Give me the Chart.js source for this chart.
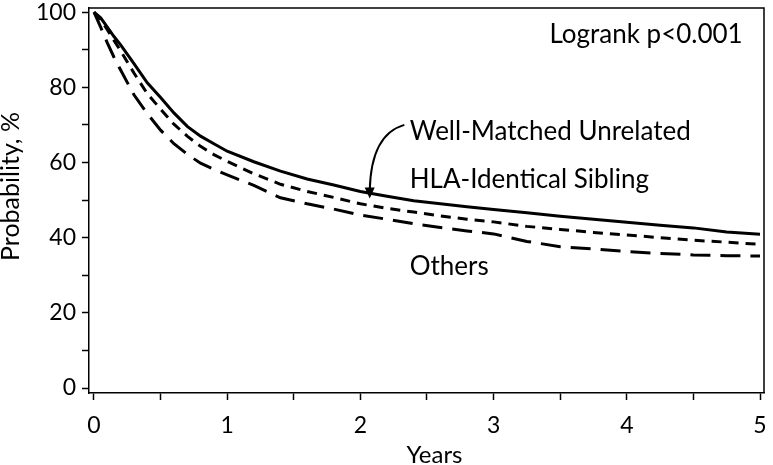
<!DOCTYPE html>
<html>
<head>
<meta charset="utf-8">
<script src="https://cdn.jsdelivr.net/npm/chart.js@4.4.1/dist/chart.umd.min.js"></script>
<style>
  html, body { margin: 0; padding: 0; background: #fff; }
  #wrap { width: 773px; height: 465px; }
</style>
</head>
<body>
<div id="wrap"><canvas id="km"></canvas></div>
<script>
// survival estimates (years, %)
const years = [0, 0.05, 0.1, 0.15, 0.2, 0.3, 0.4, 0.5, 0.6, 0.7, 0.8, 0.9, 1.0, 1.2, 1.4, 1.6, 1.8,
  2.0, 2.2, 2.4, 2.6, 2.8, 3.0, 3.25, 3.5, 3.75, 4.0, 4.25, 4.5, 4.75, 5.0];
const wellMatched = [100, 98.5, 96, 93.5, 91.3, 86.3, 81.2, 77.3, 73.2, 69.6, 67.0, 65.0, 63.0, 60.2, 57.7, 55.6, 54.0,
  52.3, 51.0, 49.8, 49.0, 48.2, 47.5, 46.6, 45.7, 44.9, 44.1, 43.3, 42.6, 41.5, 40.9];
const hlaSibling = [100, 98, 95.3, 92.5, 89.7, 83.8, 78.3, 74.2, 70.2, 67.0, 64.3, 62.1, 60.3, 57.0, 54.2, 52.3, 50.7,
  49.0, 47.8, 46.8, 45.8, 44.9, 44.2, 43.0, 42.2, 41.4, 40.7, 40.0, 39.3, 38.8, 38.2];
const others = [100, 96.0, 91.8, 88.0, 84.6, 78.0, 73.0, 68.6, 65.0, 62.2, 59.8, 58.2, 56.7, 53.9, 50.6, 49.0, 47.6,
  46.0, 44.9, 43.7, 42.7, 41.8, 41.0, 39.0, 37.6, 37.0, 36.3, 35.8, 35.4, 35.2, 35.1];

const xTicks = [0, 0.5, 1, 1.5, 2, 2.5, 3, 3.5, 4, 4.5, 5];
const yTicks = [0, 10, 20, 30, 40, 50, 60, 70, 80, 90, 100];

// in-plot labels: [text, year, value, align]
const notes = [
  ['Well-Matched Unrelated', 2.37, 68.3, 'left'],
  ['HLA-Identical Sibling', 2.37, 55.4, 'left'],
  ['Others', 2.37, 32.3, 'left'],
  ['Logrank p<0.001', 4.87, 94.0, 'right']
];
// arrow from label to curve: start, control, tip (year, value)
const arrowPath = [[2.33, 70.0], [2.08, 67.5], [2.07, 50.4]];

const FONT = 'Lato, "Open Sans", sans-serif';

const toPts = arr => arr.map((v, i) => ({ x: years[i], y: v }));

const annotate = {
  id: 'annotate',
  afterDraw(c) {
    const ctx = c.ctx, xs = c.scales.x, ys = c.scales.y, a = c.chartArea;
    ctx.save();
    // box round the plot
    ctx.strokeStyle = '#000';
    ctx.lineWidth = 1.5;
    ctx.beginPath();
    ctx.moveTo(a.left, a.top);
    ctx.lineTo(a.right, a.top);
    ctx.lineTo(a.right, a.bottom);
    ctx.stroke();

    ctx.fillStyle = '#000';
    ctx.font = '26px ' + FONT;
    ctx.textBaseline = 'middle';
    notes.forEach(n => {
      ctx.textAlign = n[3];
      ctx.fillText(n[0], xs.getPixelForValue(n[1]), ys.getPixelForValue(n[2]));
    });

    // axis titles
    ctx.font = '24px ' + FONT;
    ctx.textAlign = 'center';
    ctx.fillText('Years', (a.left + a.right) / 2 + 8, 455);
    ctx.save();
    ctx.font = '25px ' + FONT;
    ctx.translate(11, (a.top + a.bottom) / 2 - 14);
    ctx.rotate(-Math.PI / 2);
    ctx.fillText('Probability, %', 0, 0);
    ctx.restore();

    const p = arrowPath.map(q => [xs.getPixelForValue(q[0]), ys.getPixelForValue(q[1])]);
    ctx.lineWidth = 2;
    ctx.beginPath();
    ctx.moveTo(p[0][0], p[0][1]);
    ctx.quadraticCurveTo(p[1][0], p[1][1], p[2][0], p[2][1] - 8);
    ctx.stroke();
    ctx.beginPath();
    ctx.moveTo(p[2][0], p[2][1]);
    ctx.lineTo(p[2][0] - 5, p[2][1] - 11);
    ctx.lineTo(p[2][0] + 5, p[2][1] - 11);
    ctx.closePath();
    ctx.fill();
    ctx.restore();
  }
};

new Chart(document.getElementById('km'), {
  type: 'line',
  data: {
    datasets: [
      { label: 'Well-Matched Unrelated', data: toPts(wellMatched), borderColor: '#000', borderWidth: 3, pointRadius: 0 },
      { label: 'HLA-Identical Sibling', data: toPts(hlaSibling), borderColor: '#000', borderWidth: 3, borderDash: [10, 7], pointRadius: 0 },
      { label: 'Others', data: toPts(others), borderColor: '#000', borderWidth: 3, borderDash: [20, 10], pointRadius: 0 }
    ]
  },
  options: {
    responsive: true,
    maintainAspectRatio: false,
    animation: false,
    layout: { padding: { left: 0, top: 8, right: 9, bottom: 0 } },
    plugins: { legend: { display: false }, tooltip: { enabled: false } },
    scales: {
      x: {
        type: 'linear',
        min: -0.0375,
        max: 5.03,
        afterBuildTicks: s => { s.ticks = xTicks.map(v => ({ value: v })); },
        afterFit: s => { s.height = 72; s.paddingLeft = 0; s.paddingRight = 0; },
        grid: { drawOnChartArea: false, tickLength: 7, tickColor: '#000', tickWidth: 1.5 },
        border: { color: '#000', width: 1.5 },
        ticks: {
          color: '#000', font: { family: FONT, size: 23 }, padding: 12, maxRotation: 0,
          callback: v => Number.isInteger(v) ? String(v) : ''
        }
      },
      y: {
        min: -1.33,
        max: 101.1,
        afterBuildTicks: s => { s.ticks = yTicks.map(v => ({ value: v })); },
        afterFit: s => { s.width = 89; s.paddingTop = 0; s.paddingBottom = 0; },
        grid: { drawOnChartArea: false, tickLength: 7, tickColor: '#000', tickWidth: 1.5 },
        border: { color: '#000', width: 1.5 },
        ticks: {
          color: '#000', font: { family: FONT, size: 23 }, padding: 6,
          callback: v => v % 20 === 0 ? String(v) : ''
        }
      }
    }
  },
  plugins: [annotate]
});
</script>
</body>
</html>
